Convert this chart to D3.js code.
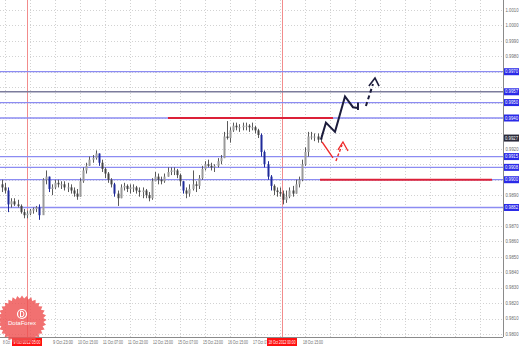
<!DOCTYPE html>
<html>
<head>
<meta charset="utf-8">
<script src="https://cdn.jsdelivr.net/npm/d3@7"></script>
<style>
  html, body { margin: 0; padding: 0; background: #fff; }
  svg { display: block; font-family: "Liberation Sans", Arial, sans-serif; }
</style>
</head>
<body>
<div id="chart"></div>
<script>
// USDCAD H1 bars, grouped two hours per bar (prices)
const barHigh = [0.9900,0.9898,0.9895,0.9888,0.9888,0.9887,0.9884,0.9881,0.9880,0.9881,0.9882,0.9883,0.9884,0.9901,0.9906,0.9902,0.9897,0.9900,0.9900,0.9899,
  0.9899,0.9898,0.9897,0.9895,0.9894,0.9901,0.9908,0.9911,0.9915,0.9916,0.9919,0.9917,0.9913,0.9908,0.9905,0.9901,0.9898,0.9893,0.9897,0.9898,
  0.9897,0.9897,0.9897,0.9896,0.9895,0.9895,0.9894,0.9892,0.9901,0.9905,0.9904,0.9902,0.9904,0.9908,0.9908,0.9908,0.9907,0.9904,0.9899,0.9895,
  0.9897,0.9906,0.9899,0.9903,0.9909,0.9912,0.9913,0.9911,0.9910,0.9914,0.9916,0.9931,0.9938,0.9934,0.9937,0.9937,0.9936,0.9937,0.9937,0.9936,
  0.9937,0.9935,0.9933,0.9930,0.9919,0.9912,0.9903,0.9897,0.9895,0.9895,0.9893,0.9893,0.9895,0.9896,0.9900,0.9902,0.9913,0.9921,0.9931,0.9931,
  0.9930,0.9930,0.9929];
const barLow = [0.9892,0.9891,0.9879,0.9882,0.9883,0.9882,0.9878,0.9875,0.9875,0.9877,0.9878,0.9879,0.9874,0.9879,0.9897,0.9892,0.9890,0.9894,0.9895,0.9894,
  0.9893,0.9892,0.9891,0.9889,0.9887,0.9889,0.9898,0.9904,0.9909,0.9911,0.9913,0.9909,0.9905,0.9901,0.9898,0.9895,0.9889,0.9883,0.9888,0.9893,
  0.9892,0.9891,0.9892,0.9891,0.9889,0.9888,0.9888,0.9886,0.9887,0.9899,0.9897,0.9897,0.9898,0.9902,0.9903,0.9903,0.9901,0.9896,0.9891,0.9888,
  0.9889,0.9893,0.9892,0.9894,0.9900,0.9906,0.9908,0.9906,0.9905,0.9908,0.9910,0.9914,0.9926,0.9924,0.9931,0.9932,0.9931,0.9932,0.9932,0.9931,
  0.9932,0.9930,0.9927,0.9915,0.9908,0.9900,0.9893,0.9890,0.9889,0.9889,0.9884,0.9885,0.9888,0.9889,0.9891,0.9895,0.9899,0.9909,0.9915,0.9926,
  0.9925,0.9924,0.9924];
const barClose = [0.9895,0.9893,0.9884,0.9886,0.9884,0.9883,0.9879,0.9877,0.9878,0.9880,0.9881,0.9882,0.9877,0.9900,0.9902,0.9894,0.9895,0.9898,0.9897,0.9897,
  0.9895,0.9895,0.9893,0.9891,0.9889,0.9899,0.9906,0.9909,0.9913,0.9914,0.9917,0.9911,0.9907,0.9904,0.9900,0.9897,0.9891,0.9888,0.9895,0.9896,
  0.9894,0.9895,0.9895,0.9893,0.9892,0.9893,0.9890,0.9888,0.9899,0.9902,0.9900,0.9899,0.9902,0.9905,0.9906,0.9906,0.9903,0.9899,0.9893,0.9891,
  0.9894,0.9897,0.9896,0.9901,0.9907,0.9910,0.9909,0.9908,0.9909,0.9912,0.9914,0.9928,0.9927,0.9932,0.9935,0.9934,0.9934,0.9935,0.9935,0.9934,
  0.9934,0.9932,0.9929,0.9918,0.9910,0.9902,0.9896,0.9893,0.9892,0.9891,0.9887,0.9889,0.9893,0.9891,0.9897,0.9900,0.9910,0.9918,0.9928,0.9928,
  0.9928,0.9926,0.9927];
const firstOpen = 0.9897;
const lastPrice = 0.9927;

// right price scale
const priceTicks = [1.0010,1.0000,0.9990,0.9980,0.9970,0.9960,0.9950,0.9940,0.9930,0.9920,0.9910,
  0.9900,0.9890,0.9880,0.9870,0.9860,0.9850,0.9840,0.9830,0.9820,0.9810,0.9800];

// time scale: trading hours counted from 8 Oct 15:00
const timeTickHours = [0,16,32,48,64,80,96,112,128,144,160,176,192];
const timeTickLabels = ["8 Oct 2012","9 Oct 07:00","9 Oct 23:00","10 Oct 15:00","11 Oct 07:00","11 Oct 23:00",
  "12 Oct 15:00","15 Oct 07:00","15 Oct 23:00","16 Oct 15:00","17 Oct 07:00","17 Oct 23:00","18 Oct 15:00"];

// analysis objects
const levelPrices = [0.9970, 0.9957, 0.9950, 0.9940, 0.9915, 0.9908, 0.9900, 0.9882];
const levelColors = ["#8c8cf2", "#7c7c9c", "#8c8cf2", "#8c8cf2", "#8c8cf2", "#8c8cf2", "#8c8cf2", "#8c8cf2"];
const redLevels = [
  { price: 0.9940, from: 104.3, to: 209.9 },
  { price: 0.9900, from: 201.6, to: 311.7 }
];
const vLineHours = [14.1, 177.3];
const vLineLabels = ["9 Oct 2012 05:00", "18 Oct 2012 00:00"];

const upPath = [[202.2,0.9926],[205.4,0.9937],[211.2,0.9931],[217.6,0.9954],[222.7,0.9947],[225.9,0.99465]];
const upTick = [[225.9,0.9950],[225.9,0.99452]];
const upDash = [[231,0.99478],[235.5,0.9962]];
const upHead = [[232.9,0.99607],[236.8,0.99659],[239.4,0.99607]];
const downPath = [[202.9,0.99245],[209.9,0.99141]];
const downDash = [[211.8,0.99121],[215.7,0.99225]];
const downHead = [[213.1,0.99193],[216.3,0.99245],[219.5,0.99186]];

const W = 519, H = 346;
const plotRight = 503, plotBottom = 337;

const svg = d3.select('#chart').append('svg')
  .attr('width', W).attr('height', H);

const x = d3.scaleLinear().domain([0, 320]).range([5, 505]);
const y = d3.scaleLinear().domain([0.9800, 1.0010]).range([334, 10]);

// Grid
const grid = svg.append('g').attr('stroke', '#d2d2d2').attr('stroke-dasharray', '1,2');
grid.selectAll('.hgrid').data(priceTicks).enter().append('line')
  .attr('x1', 0).attr('x2', plotRight)
  .attr('y1', d => Math.round(y(d)) + 0.5).attr('y2', d => Math.round(y(d)) + 0.5);
grid.selectAll('.vgrid').data(d3.range(0, 320, 16)).enter().append('line')
  .attr('x1', d => Math.round(x(d)) + 0.5).attr('x2', d => Math.round(x(d)) + 0.5)
  .attr('y1', 0).attr('y2', plotBottom);

// vertical red lines
svg.selectAll('.vline').data(vLineHours).enter().append('line')
  .attr('x1', d => Math.round(x(d)) + 0.5).attr('x2', d => Math.round(x(d)) + 0.5)
  .attr('y1', 0).attr('y2', plotBottom)
  .attr('stroke', '#f28c8c').attr('stroke-width', 1);

// horizontal levels
svg.selectAll('.level').data(levelPrices).enter().append('line')
  .attr('x1', 0).attr('x2', plotRight)
  .attr('y1', d => y(d)).attr('y2', d => y(d))
  .attr('stroke', (d, i) => levelColors[i]).attr('stroke-width', 1.3);

// bars
const bars = svg.append('g');
barClose.forEach((c, i) => {
  const o = i === 0 ? firstOpen : barClose[i - 1];
  const bx = Math.round(x(2 * i - 2));
  const bigDrop = o - c >= 0.00045;
  bars.append('line')
    .attr('x1', bx + 0.5).attr('x2', bx + 0.5)
    .attr('y1', y(barHigh[i])).attr('y2', y(barLow[i]))
    .attr('stroke', bigDrop ? '#1f2a9a' : '#5a5a5a').attr('stroke-width', 1);
  const top = y(Math.max(o, c)), bot = y(Math.min(o, c));
  bars.append('rect')
    .attr('x', bx - 0.5).attr('width', 2)
    .attr('y', top).attr('height', Math.max(1, bot - top))
    .attr('fill', bigDrop ? '#1f2a9a' : (c >= o ? '#9a9a9a' : '#444'));
});

// red horizontal segments
svg.selectAll('.redlevel').data(redLevels).enter().append('line')
  .attr('x1', d => x(d.from)).attr('x2', d => x(d.to))
  .attr('y1', d => y(d.price)).attr('y2', d => y(d.price))
  .attr('stroke', '#dc2038').attr('stroke-width', 2);

// forecast arrows
const line = d3.line().x(d => x(d[0])).y(d => y(d[1]));
const drawPath = (pts, color, w, dash) => svg.append('path')
  .attr('d', line(pts)).attr('fill', 'none')
  .attr('stroke', color).attr('stroke-width', w)
  .attr('stroke-dasharray', dash || null)
  .attr('stroke-linejoin', 'miter');
drawPath(upPath, '#1c1c3c', 2);
drawPath(upTick, '#1c1c3c', 2);
drawPath(upDash, '#1c1c3c', 2, '4,3');
drawPath(upHead, '#1c1c3c', 1.6);
drawPath(downPath, '#ee2a2a', 1.4);
drawPath(downDash, '#ee2a2a', 1.4, '3,2');
drawPath(downHead, '#ee2a2a', 1.3);

// axes frame
svg.append('line').attr('x1', plotRight + 0.5).attr('x2', plotRight + 0.5)
  .attr('y1', 0).attr('y2', plotBottom).attr('stroke', '#8a8a8a');
svg.append('line').attr('x1', 0).attr('x2', plotRight)
  .attr('y1', plotBottom + 0.5).attr('y2', plotBottom + 0.5).attr('stroke', '#8a8a8a');

// price labels (the ones under a level box are hidden, as in the terminal)
const covered = v => levelPrices.concat([lastPrice]).some(l => Math.abs(y(l) - y(v)) < 5);
svg.selectAll('.ptick').data(priceTicks.filter(v => !covered(v))).enter().append('text')
  .attr('x', plotRight + 2.5).attr('y', d => y(d) + 1.7)
  .attr('font-size', 4.6).attr('fill', '#6a6a6a')
  .attr('textLength', 13).attr('lengthAdjust', 'spacingAndGlyphs')
  .text(d => d.toFixed(4));

// level boxes
const boxes = svg.selectAll('.lbox').data(levelPrices).enter().append('g')
  .attr('transform', d => `translate(${plotRight + 1},${y(d)})`);
boxes.append('rect').attr('x', 0).attr('y', -3.5).attr('width', 15).attr('height', 7)
  .attr('fill', '#2a2ae8');
boxes.append('text').attr('x', 1).attr('y', 1.7).attr('font-size', 4.6).attr('fill', '#fff')
  .attr('textLength', 13).attr('lengthAdjust', 'spacingAndGlyphs')
  .text(d => d.toFixed(4));

const cur = svg.append('g').attr('transform', `translate(${plotRight + 1},${y(lastPrice)})`);
cur.append('rect').attr('x', 0).attr('y', -3.5).attr('width', 15).attr('height', 7).attr('fill', '#2a2a3a');
cur.append('text').attr('x', 1).attr('y', 1.7).attr('font-size', 4.6).attr('fill', '#fff')
  .attr('textLength', 13).attr('lengthAdjust', 'spacingAndGlyphs')
  .text(lastPrice.toFixed(4));

// time labels (those under the red line boxes are hidden)
const underBox = h => vLineHours.some(v => Math.abs(x(v) - x(h)) < 14);
const tIdx = timeTickHours.map((h, i) => i).filter(i => i === 0 || !underBox(timeTickHours[i]));
svg.selectAll('.ttick').data(tIdx).enter().append('text')
  .attr('x', i => x(timeTickHours[i]) - 2).attr('y', plotBottom + 6.5)
  .attr('font-size', 4.6).attr('fill', '#6a6a6a')
  .attr('textLength', i => i === 0 ? 7 : 20).attr('lengthAdjust', 'spacingAndGlyphs')
  .text(i => i === 0 ? timeTickLabels[i].slice(0, 6) : timeTickLabels[i]);

const vl = svg.selectAll('.vlabel').data(vLineHours).enter().append('g')
  .attr('transform', d => `translate(${Math.round(x(d))},${plotBottom + 1})`);
vl.append('rect').attr('x', -15).attr('y', 0).attr('width', 30).attr('height', 8).attr('fill', '#ff1010');
vl.append('text').attr('x', 0).attr('y', 5.8).attr('text-anchor', 'middle')
  .attr('font-size', 4.6).attr('fill', '#fff')
  .attr('textLength', 27).attr('lengthAdjust', 'spacingAndGlyphs')
  .text((d, i) => vLineLabels[i]);

// DotaForex seal
const seal = svg.append('g').attr('transform', 'translate(22,320)').attr('opacity', 0.82);
const starPts = d3.range(64).map(k => {
  const a = k * Math.PI / 32, r = k % 2 ? 21.5 : 24.5;
  return [r * Math.sin(a), -r * Math.cos(a)];
});
seal.append('polygon').attr('points', starPts.map(p => p.join(',')).join(' ')).attr('fill', '#ee5252');
seal.append('circle').attr('cx', 0).attr('cy', -6).attr('r', 4.5).attr('fill', 'none')
  .attr('stroke', '#fff').attr('stroke-width', 1.2);
seal.append('path').attr('d', 'M-1.5,-9 L-1.5,-3 M-1.5,-9 Q2,-9 2,-6 Q2,-3 -1.5,-3').attr('fill', 'none')
  .attr('stroke', '#fff').attr('stroke-width', 1);
seal.append('text').attr('x', 0).attr('y', 5).attr('text-anchor', 'middle')
  .attr('font-size', 6).attr('fill', '#fff').text('DotaForex');
</script>
</body>
</html>
